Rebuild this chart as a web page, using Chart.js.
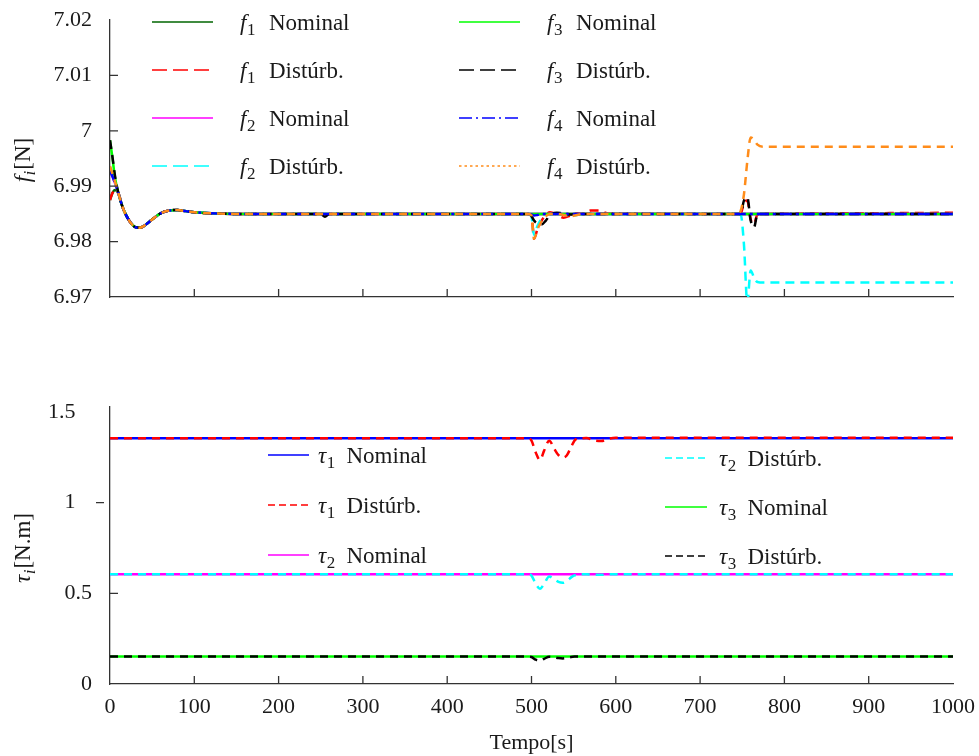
<!DOCTYPE html>
<html lang="pt">
<head>
<meta charset="UTF-8">
<title>Forças e torques</title>
<style>
  body { margin: 0; background: #fff; }
  .quadro { position: relative; width: 979px; height: 756px; }
  canvas { position: absolute; left: 0; top: 0; }
</style>
</head>
<body>
<div class="quadro">
  <canvas id="forcas" width="979" height="756"></canvas>
  <canvas id="torques" width="979" height="756"></canvas>
</div>

<script src="https://cdn.jsdelivr.net/npm/chart.js@4"></script>
<script>
// ---- dados ----
const tempoF = [0, 3, 6, 10, 15, 20, 25, 30, 35, 40, 50, 60, 70, 80, 90, 100, 120, 150,
  250, 255, 260,
  496, 500, 503, 507, 512, 517, 522, 530, 538, 546, 554, 562, 570, 580, 590,
  744, 748, 752, 756, 760, 764, 768, 775, 1000];

const f1Nominal = [6.9875, 6.9888, 6.9893, 6.9887, 6.9862, 6.9845, 6.9833, 6.9826, 6.9825, 6.9828, 6.9840, 6.9851, 6.9856, 6.9857, 6.9855, 6.9853, 6.9851, 6.9850,
  6.985, 6.985, 6.985,
  6.985, 6.985, 6.985, 6.985, 6.985, 6.985, 6.985, 6.985, 6.985, 6.985, 6.985, 6.985, 6.985, 6.985, 6.985,
  6.985, 6.985, 6.985, 6.985, 6.985, 6.985, 6.985, 6.985, 6.985];
const f1Disturb = [6.9875, 6.9888, 6.9893, 6.9887, 6.9862, 6.9845, 6.9833, 6.9826, 6.9825, 6.9828, 6.9840, 6.9851, 6.9856, 6.9857, 6.9855, 6.9853, 6.9851, 6.9850,
  6.985, 6.985, 6.985,
  6.985, 6.9848, 6.9805, 6.9822, 6.9838, 6.9848, 6.9853, 6.9849, 6.9843, 6.9847, 6.9851, 6.9850, 6.9856, 6.9856, 6.9851,
  6.985, 6.985, 6.9870, 6.9874, 6.9840, 6.9832, 6.9849, 6.985, 6.9852];
const f2Nominal = [6.9930, 6.9918, 6.9905, 6.9887, 6.9862, 6.9845, 6.9833, 6.9826, 6.9825, 6.9828, 6.9840, 6.9851, 6.9856, 6.9857, 6.9855, 6.9853, 6.9851, 6.9850,
  6.985, 6.985, 6.985,
  6.985, 6.985, 6.985, 6.985, 6.985, 6.985, 6.985, 6.985, 6.985, 6.985, 6.985, 6.985, 6.985, 6.985, 6.985,
  6.985, 6.985, 6.985, 6.985, 6.985, 6.985, 6.985, 6.985, 6.985];
const f2Disturb = [6.9935, 6.9922, 6.9908, 6.9887, 6.9862, 6.9845, 6.9833, 6.9826, 6.9825, 6.9828, 6.9840, 6.9851, 6.9856, 6.9857, 6.9855, 6.9853, 6.9851, 6.9850,
  6.985, 6.985, 6.985,
  6.985, 6.9845, 6.9812, 6.9828, 6.9842, 6.9849, 6.9850, 6.9850, 6.9849, 6.9847, 6.9848, 6.9850, 6.9850, 6.9850, 6.9850,
  6.985, 6.985, 6.9795, 6.9690, 6.9748, 6.9735, 6.9727, 6.9726, 6.9726];
const f3Nominal = [6.9983, 6.9950, 6.9915, 6.9887, 6.9862, 6.9845, 6.9833, 6.9826, 6.9825, 6.9828, 6.9840, 6.9851, 6.9856, 6.9857, 6.9855, 6.9853, 6.9851, 6.9850,
  6.985, 6.985, 6.985,
  6.985, 6.985, 6.985, 6.985, 6.985, 6.985, 6.985, 6.985, 6.985, 6.985, 6.985, 6.985, 6.985, 6.985, 6.985,
  6.985, 6.985, 6.985, 6.985, 6.985, 6.985, 6.985, 6.985, 6.985];
const f3Disturb = [6.9983, 6.9952, 6.9918, 6.9887, 6.9862, 6.9845, 6.9833, 6.9826, 6.9825, 6.9828, 6.9840, 6.9851, 6.9856, 6.9857, 6.9855, 6.9853, 6.9851, 6.9850,
  6.985, 6.9845, 6.985,
  6.985, 6.9846, 6.9838, 6.9833, 6.9831, 6.9838, 6.9848, 6.9852, 6.9851, 6.9849, 6.9850, 6.9850, 6.9850, 6.9850, 6.9850,
  6.985, 6.985, 6.9874, 6.9880, 6.9838, 6.9826, 6.9849, 6.985, 6.985];
const f4Nominal = [6.9928, 6.9917, 6.9905, 6.9887, 6.9862, 6.9845, 6.9833, 6.9826, 6.9825, 6.9828, 6.9840, 6.9851, 6.9856, 6.9857, 6.9855, 6.9853, 6.9851, 6.9850,
  6.985, 6.985, 6.985,
  6.985, 6.9849, 6.9847, 6.9848, 6.985, 6.985, 6.985, 6.985, 6.985, 6.985, 6.985, 6.985, 6.985, 6.985, 6.985,
  6.985, 6.985, 6.985, 6.985, 6.985, 6.985, 6.985, 6.985, 6.985];
const f4Disturb = [6.9936, 6.9922, 6.9908, 6.9887, 6.9862, 6.9845, 6.9833, 6.9826, 6.9825, 6.9828, 6.9840, 6.9851, 6.9856, 6.9857, 6.9855, 6.9853, 6.9851, 6.9850,
  6.985, 6.985, 6.985,
  6.985, 6.9847, 6.9805, 6.9822, 6.9837, 6.9846, 6.9850, 6.9850, 6.9848, 6.9846, 6.9848, 6.9850, 6.9850, 6.9850, 6.9850,
  6.985, 6.9855, 6.9885, 6.9945, 6.9988, 6.9984, 6.9975, 6.9971, 6.9971];

const tempoTau = [0, 496, 500, 505, 510, 515, 521, 527, 532, 537, 542, 547, 551, 556, 565, 575, 583, 592, 600, 1000];
const tau1Nominal = [1.355, 1.355, 1.355, 1.355, 1.355, 1.355, 1.355, 1.355, 1.355, 1.355, 1.355, 1.355, 1.355, 1.355, 1.355, 1.355, 1.355, 1.355, 1.355, 1.355];
const tau1Disturb = [1.355, 1.355, 1.342, 1.277, 1.235, 1.287, 1.342, 1.297, 1.262, 1.249, 1.262, 1.307, 1.342, 1.355, 1.356, 1.343, 1.340, 1.353, 1.358, 1.358];
const tau2Nominal = [0.605, 0.605, 0.605, 0.605, 0.605, 0.605, 0.605, 0.605, 0.605, 0.605, 0.605, 0.605, 0.605, 0.605, 0.605, 0.605, 0.605, 0.605, 0.605, 0.605];
const tau2Disturb = [0.605, 0.605, 0.598, 0.553, 0.525, 0.553, 0.593, 0.578, 0.563, 0.558, 0.568, 0.588, 0.599, 0.604, 0.605, 0.602, 0.602, 0.605, 0.605, 0.605];
const tau3Nominal = [0.151, 0.151, 0.151, 0.151, 0.151, 0.151, 0.151, 0.151, 0.151, 0.151, 0.151, 0.151, 0.151, 0.151, 0.151, 0.151, 0.151, 0.151, 0.151, 0.151];
const tau3Disturb = [0.151, 0.151, 0.149, 0.134, 0.129, 0.139, 0.150, 0.147, 0.143, 0.141, 0.144, 0.149, 0.151, 0.151, 0.151, 0.151, 0.151, 0.151, 0.151, 0.151];

const nomesF = ['f1 Nominal', 'f1 Distúrb.', 'f2 Nominal', 'f2 Distúrb.', 'f3 Nominal', 'f3 Distúrb.', 'f4 Nominal', 'f4 Distúrb.'];
const nomesTau = ['τ1 Nominal', 'τ1 Distúrb.', 'τ2 Nominal', 'τ2 Distúrb.', 'τ3 Nominal', 'τ3 Distúrb.'];

const ticksF = [6.97, 6.98, 6.99, 7, 7.01, 7.02];
const rotulosF = ['6.97', '6.98', '6.99', '7', '7.01', '7.02'];
const ticksTau = [0, 0.5, 1, 1.5];
const rotulosTau = ['0', '0.5', '1   ', '1.5   '];
const marcasTempo = [100, 200, 300, 400, 500, 600, 700, 800, 900];

// ---- estilos ----
const fonte = '"Liberation Serif", "Times New Roman", serif';
const corTexto = '#1a1a1a';
const corEixo = '#333';

const estilosF = [
  { cor: '#006400', plot: [], leg: [] },
  { cor: '#ff0000', plot: [9, 6], leg: [15, 6] },
  { cor: '#ff00ff', plot: [], leg: [] },
  { cor: '#00ffff', plot: [9, 6], leg: [15, 6] },
  { cor: '#00ff00', plot: [], leg: [] },
  { cor: '#000000', plot: [9, 6], leg: [15, 6] },
  { cor: '#0000ff', plot: [12, 4, 3, 4], leg: [13, 4, 2, 4] },
  { cor: '#ff8c1a', plot: [8, 6], leg: [2.5, 3] }
];
const estilosTau = [
  { cor: '#0000ff', plot: [], leg: [] },
  { cor: '#ff0000', plot: [8, 6], leg: [7, 4] },
  { cor: '#ff00ff', plot: [], leg: [] },
  { cor: '#00ffff', plot: [8, 6], leg: [7, 4] },
  { cor: '#00ff00', plot: [], leg: [] },
  { cor: '#000000', plot: [8, 6], leg: [7, 4] }
];

// posicoes da legenda: [inicio da linha, fim da linha, inicio do texto]
const legF = { colunas: [[152, 213, 240], [459, 520, 547]], linhas: [[22, 70, 118, 166], [22, 70, 118, 166]], porColuna: 4, recuo: 29 };
const legTau = { colunas: [[268, 309, 318], [665, 707, 719]], linhas: [[455, 505, 555], [458, 507, 556]], porColuna: 3, recuo: 28.5 };
const tamLegenda = 23;

// simbolo em italico com indice, seguido de texto normal
function escreveIndice(ctx, x, y, simb, ind, resto, tam, indItalico, recuo) {
  ctx.font = 'italic ' + tam + 'px ' + fonte;
  ctx.fillText(simb, x, y);
  const w1 = ctx.measureText(simb).width;
  const tamInd = Math.round(tam * 0.72);
  ctx.font = (indItalico ? 'italic ' : '') + tamInd + 'px ' + fonte;
  ctx.fillText(ind, x + w1 + 0.5, y + tam * 0.22);
  const w2 = ctx.measureText(ind).width;
  ctx.font = tam + 'px ' + fonte;
  const xr = recuo ? x + recuo : x + w1 + 0.5 + w2 + 1;
  ctx.fillText(resto, xr, y);
  return xr + ctx.measureText(resto).width - x;
}

const decoracao = {
  id: 'decoracao',
  afterDraw(chart, args, opts) {
    const ctx = chart.ctx;
    const { left, bottom } = chart.chartArea;
    const xs = chart.scales.x, ys = chart.scales.y;
    ctx.save();

    // marcas dos eixos
    ctx.strokeStyle = corEixo;
    ctx.lineWidth = 1.3;
    ctx.beginPath();
    marcasTempo.forEach(v => {
      const p = xs.getPixelForValue(v);
      ctx.moveTo(p, bottom); ctx.lineTo(p, bottom - 8);
    });
    opts.marcasDentro.forEach(v => {
      const p = ys.getPixelForValue(v);
      ctx.moveTo(left, p); ctx.lineTo(left + 8, p);
    });
    opts.marcasFora.forEach(v => {
      const p = ys.getPixelForValue(v);
      ctx.moveTo(left - 14, p); ctx.lineTo(left - 6, p);
    });
    ctx.stroke();

    // legenda
    ctx.fillStyle = corTexto;
    ctx.textBaseline = 'alphabetic';
    ctx.textAlign = 'left';
    const lg = opts.legenda;
    opts.nomes.forEach((nome, i) => {
      const c = Math.floor(i / lg.porColuna), r = i % lg.porColuna;
      const [x0, x1, xt] = lg.colunas[c];
      const y = lg.linhas[c][r];
      const est = opts.estilos[i];
      ctx.strokeStyle = est.cor;
      ctx.lineWidth = 1.4;
      ctx.setLineDash(est.leg);
      ctx.beginPath(); ctx.moveTo(x0, y); ctx.lineTo(x1, y); ctx.stroke();
      ctx.setLineDash([]);
      const sp = nome.indexOf(' ');
      escreveIndice(ctx, xt, y + 8, nome[0], nome.slice(1, sp), nome.slice(sp + 1), tamLegenda, false, lg.recuo);
    });

    // titulo do eixo y, girado
    const t = opts.tituloY;
    ctx.translate(t.x, t.y);
    ctx.rotate(-Math.PI / 2);
    const tmp = document.createElement('canvas').getContext('2d');
    const largura = escreveIndice(tmp, 0, 0, t.simb, t.ind, t.resto, tamLegenda, true, 0);
    escreveIndice(ctx, -largura / 2, 7, t.simb, t.ind, t.resto, tamLegenda, true, 0);
    ctx.restore();
  }
};

// a ultima serie fica por cima, como no original
function conjuntos(tempo, series, nomes, estilos, largura) {
  return series.map((s, i) => ({
    label: nomes[i],
    data: tempo.map((t, k) => ({ x: t, y: s[k] })),
    borderColor: estilos[i].cor,
    borderWidth: largura,
    borderDash: estilos[i].plot,
    pointRadius: 0,
    fill: false,
    order: series.length - i,
    cubicInterpolationMode: 'monotone'
  }));
}

const fonteTicks = { family: fonte, size: 22 };
const semFolgaY = s => { s.width = 110; s.paddingTop = 0; s.paddingBottom = 0; };

// ---- forcas ----
new Chart(document.getElementById('forcas'), {
  type: 'line',
  data: {
    datasets: conjuntos(tempoF,
      [f1Nominal, f1Disturb, f2Nominal, f2Disturb, f3Nominal, f3Disturb, f4Nominal, f4Disturb],
      nomesF, estilosF, 2.5)
  },
  options: {
    responsive: false,
    animation: false,
    devicePixelRatio: 1,
    layout: { padding: { top: 20, right: 26, left: 0, bottom: 0 } },
    plugins: {
      legend: { display: false },
      tooltip: { enabled: false },
      decoracao: {
        marcasDentro: [6.98, 6.99, 7, 7.01], marcasFora: [],
        legenda: legF, nomes: nomesF, estilos: estilosF,
        tituloY: { x: 23, y: 160, simb: 'f', ind: 'i', resto: '[N]' }
      }
    },
    scales: {
      x: {
        type: 'linear', min: 0, max: 1000,
        grid: { display: false, drawTicks: false },
        border: { color: corEixo, width: 1.3 },
        ticks: { display: false },
        afterFit: s => { s.height = 459; s.paddingLeft = 0; s.paddingRight = 0; }
      },
      y: {
        min: 6.97, max: 7.02,
        afterBuildTicks: s => { s.ticks = ticksF.map(v => ({ value: v })); },
        grid: { display: false, drawTicks: false },
        border: { color: corEixo, width: 1.3 },
        ticks: { font: fonteTicks, color: corTexto, padding: 18, callback: (v, i) => rotulosF[i] },
        afterFit: semFolgaY
      }
    }
  },
  plugins: [decoracao]
});

// ---- torques ----
new Chart(document.getElementById('torques'), {
  type: 'line',
  data: {
    datasets: conjuntos(tempoTau,
      [tau1Nominal, tau1Disturb, tau2Nominal, tau2Disturb, tau3Nominal, tau3Disturb],
      nomesTau, estilosTau, 2.5)
  },
  options: {
    responsive: false,
    animation: false,
    devicePixelRatio: 1,
    layout: { padding: { top: 407, right: 26, left: 0, bottom: 0 } },
    plugins: {
      legend: { display: false },
      tooltip: { enabled: false },
      decoracao: {
        marcasDentro: [0.5], marcasFora: [1],
        legenda: legTau, nomes: nomesTau, estilos: estilosTau,
        tituloY: { x: 23, y: 548, simb: 'τ', ind: 'i', resto: '[N.m]' }
      }
    },
    scales: {
      x: {
        type: 'linear', min: 0, max: 1000,
        grid: { display: false, drawTicks: false },
        border: { color: corEixo, width: 1.3 },
        ticks: { font: fonteTicks, color: corTexto, padding: 10, stepSize: 100, autoSkip: false, callback: v => String(v) },
        title: { display: true, text: 'Tempo[s]', font: fonteTicks, color: corTexto, padding: { top: 0, bottom: 0 } },
        afterFit: s => { s.height = 72; s.paddingLeft = 0; s.paddingRight = 0; }
      },
      y: {
        min: 0, max: 1.5276,
        afterBuildTicks: s => { s.ticks = ticksTau.map(v => ({ value: v })); },
        grid: { display: false, drawTicks: false },
        border: { color: corEixo, width: 1.3 },
        ticks: { font: fonteTicks, color: corTexto, padding: 18, callback: (v, i) => rotulosTau[i] },
        afterFit: semFolgaY
      }
    }
  },
  plugins: [decoracao]
});
</script>
</body>
</html>
